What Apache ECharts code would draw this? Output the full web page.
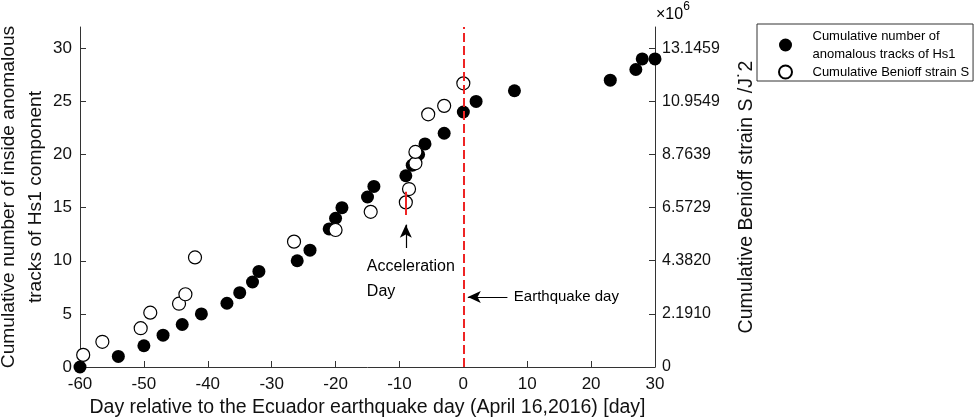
<!DOCTYPE html>
<html>
<head>
<meta charset="utf-8">
<script src="https://cdn.jsdelivr.net/npm/echarts@6/dist/echarts.min.js"></script>
<style>
html,body{margin:0;padding:0;background:#fff;}
#chart{width:976px;height:419px;}
</style>
</head>
<body>
<div id="chart"></div>
<script>
// ---- data ----
const hsDays   = [-60,-54,-50,-47,-44,-41,-37,-35,-33,-32,-26,-24,-21,-20,-19,-15,-14,-9,-8,-7,-6,-3,0,2,8,23,27,28,30];
const hsCounts = [0,1,2,3,4,5,6,7,8,9,10,11,13,14,15,16,17,18,19,20,21,22,24,25,26,27,28,29,29];

const benDays   = [-59.5,-56.5,-50.5,-49,-44.5,-43.5,-42,-26.5,-20,-14.5,-9,-8.5,-7.5,-7.5,-5.5,-3,0];
const benStrain = [0.50,1.04,1.60,2.24,2.61,3.00,4.52,5.17,5.65,6.40,6.79,7.34,8.40,8.87,10.42,10.77,11.70]; // x10^6

const xTicks = [-60,-50,-40,-30,-20,-10,0,10,20,30];
const leftTicks = [0,5,10,15,20,25,30];
const rightTickValues = [0,2.190983,4.381966,6.572949,8.763932,10.954915,13.145898];
const rightTickLabels = ['0','2.1910','4.3820','6.5729','8.7639','10.9549','13.1459'];

const leftMax = 32;
const rightMax = 14.02229;

const legendHs = 'Cumulative number of\nanomalous tracks of Hs1';
const legendBen = 'Cumulative Benioff strain S';

const quakeDay = 0;
const accelDay = -9;
const accelSeg = [14.3, 16.5];          // left-axis units
const accelArrow = [[-9, 11.2], [-9, 13.4]];
const quakeArrow = [[6.9, 6.6], [0.7, 6.6]];
const accelTextPos = [-15.1, 10.65];
const quakeTextPos = [7.9, 6.6];

const axisColor = '#333';
const textColor = '#111';
const font = 'Liberation Sans, Arial, Helvetica, sans-serif';

const chart = echarts.init(document.getElementById('chart'), null, {renderer:'canvas'});

function nearestLabel(v){
  let best = 0, d = Infinity;
  rightTickValues.forEach((t,i)=>{ if (Math.abs(t-v) < d){ d = Math.abs(t-v); best = i; } });
  return d < 1e-3 ? rightTickLabels[best] : '';
}

const option = {
  animation:false,
  backgroundColor:'#fff',
  textStyle:{fontFamily:font},
  grid:{left:80, right:321, top:27, bottom:52, containLabel:false, outerBoundsMode:'none'},
  legend:{
    orient:'vertical', left:757, top:24,
    padding:[3,4,0,21], itemGap:0, itemWidth:44, itemHeight:13,
    borderColor:'#333', borderWidth:1, backgroundColor:'#fff',
    textStyle:{fontSize:13, lineHeight:18, color:'#000', fontFamily:font},
    data:[{name:legendHs, icon:'circle'},{name:legendBen, icon:'circle'}]
  },
  xAxis:{
    type:'value', min:-60, max:30, interval:10,
    name:'Day relative to the Ecuador earthquake day (April 16,2016) [day]',
    nameLocation:'middle', nameGap:31, nameMoveOverlap:false,
    nameTextStyle:{fontSize:19.5, color:textColor, fontFamily:font},
    axisLine:{show:true, onZero:false, lineStyle:{color:axisColor, width:1}},
    axisTick:{show:true, inside:true, length:6, lineStyle:{color:axisColor}, customValues:xTicks},
    axisLabel:{fontSize:17, color:textColor, margin:9, fontFamily:font, customValues:xTicks},
    splitLine:{show:false}
  },
  yAxis:[
    {
      type:'value', min:0, max:leftMax, interval:5, position:'left',
      name:'Cumulative number of inside anomalous\ntracks of Hs1 component',
      nameLocation:'middle', nameGap:31, nameRotate:90, nameMoveOverlap:false,
      nameTextStyle:{fontSize:19.2, lineHeight:27, color:textColor, fontFamily:font},
      axisLine:{show:true, onZero:false, lineStyle:{color:axisColor, width:1}},
      axisTick:{show:true, inside:true, length:6, lineStyle:{color:axisColor}, customValues:leftTicks},
      axisLabel:{fontSize:17, color:textColor, margin:8, fontFamily:font, customValues:leftTicks},
      splitLine:{show:false}
    },
    {
      type:'value', min:0, max:rightMax, interval:rightTickValues[1], position:'right',
      name:'Cumulative Benioff strain S /J\u02D92',
      nameLocation:'middle', nameGap:82, nameRotate:90, nameMoveOverlap:false,
      nameTextStyle:{fontSize:19.5, color:textColor, fontFamily:font},
      axisLine:{show:true, onZero:false, lineStyle:{color:axisColor, width:1}},
      axisTick:{show:true, inside:true, length:6, lineStyle:{color:axisColor}, customValues:rightTickValues},
      axisLabel:{fontSize:16, color:textColor, margin:7, fontFamily:font,
        customValues:rightTickValues, formatter:(v)=>nearestLabel(v)},
      splitLine:{show:false}
    }
  ],
  series:[
    {
      name:legendHs, type:'scatter', yAxisIndex:0, symbol:'circle', symbolSize:13,
      itemStyle:{color:'#000', opacity:1},
      emphasis:{disabled:true},
      data:hsDays.map((d,i)=>[d, hsCounts[i]]),
      z:2,
      markLine:{
        silent:true, animation:false,
        label:{show:false},
        data:[
          [{coord:[quakeDay,0], symbol:'none'},{coord:[quakeDay,leftMax], symbol:'none',
            lineStyle:{color:'#ee2424', width:2, type:[9,4]}}],
          [{coord:[accelDay,accelSeg[0]], symbol:'none'},{coord:[accelDay,accelSeg[1]], symbol:'none',
            lineStyle:{color:'#ee2424', width:2, type:'solid'}}],
          [{coord:accelArrow[0], symbol:'none'},{coord:accelArrow[1], symbol:'arrow', symbolSize:[9,13],
            lineStyle:{color:'#000', width:1.2, type:'solid'}}],
          [{coord:quakeArrow[0], symbol:'none'},{coord:quakeArrow[1], symbol:'arrow', symbolSize:[9,13],
            lineStyle:{color:'#000', width:1.2, type:'solid'}}]
        ]
      }
    },
    {
      name:legendBen, type:'scatter', yAxisIndex:1, symbol:'circle', symbolSize:13,
      itemStyle:{color:'#fff', borderColor:'#000', borderWidth:1.2, opacity:1},
      emphasis:{disabled:true},
      data:benDays.map((d,i)=>[d, benStrain[i]]),
      z:3
    }
  ]
};
chart.setOption(option);

const pAcc = chart.convertToPixel({xAxisIndex:0, yAxisIndex:0}, accelTextPos);
const pQk = chart.convertToPixel({xAxisIndex:0, yAxisIndex:0}, quakeTextPos);
const pTop = chart.convertToPixel({xAxisIndex:0, yAxisIndex:0}, [30, leftMax]);

chart.setOption({
  graphic:[
    {type:'text', x:pAcc[0], y:pAcc[1], silent:true,
      style:{text:'Acceleration\nDay', lineHeight:25, fill:'#000', font:'16px '+font, align:'left', verticalAlign:'top'}},
    {type:'text', x:pQk[0], y:pQk[1], silent:true,
      style:{text:'Earthquake day', fill:'#000', font:'15px '+font, align:'left', verticalAlign:'middle'}},
    {type:'text', x:pTop[0]+1, y:pTop[1]-4, silent:true,
      style:{text:'{a|\u00D710}{b|6}', align:'left', verticalAlign:'bottom',
        rich:{a:{fontSize:16, fill:'#000', fontFamily:font, verticalAlign:'bottom'},
              b:{fontSize:12, fill:'#000', fontFamily:font, verticalAlign:'top', padding:[0,0,10,0]}}}}
  ]
});
</script>
</body>
</html>
